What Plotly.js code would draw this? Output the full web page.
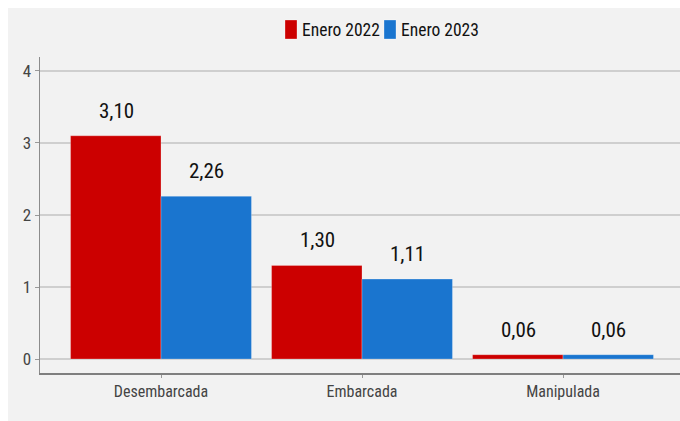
<!DOCTYPE html>
<html>
<head>
<meta charset="utf-8">
<script src="https://cdn.plot.ly/plotly-3.0.1.min.js"></script>
<style>
html,body{margin:0;padding:0;background:#ffffff;}
#chart{position:absolute;left:8px;top:8px;width:672px;height:413px;}
</style>
</head>
<body>
<div id="chart"></div>
<script>
var categories = ["Desembarcada", "Embarcada", "Manipulada"];
var seriesNames = ["Enero 2022", "Enero 2023"];
var values2022 = [3.10, 1.30, 0.06];
var values2023 = [2.26, 1.11, 0.06];
var colors = ["#cc0000", "#1a75cf"];

var FONT = '"Liberation Sans Narrow", "Arial Narrow", "Roboto Condensed", "DejaVu Sans Condensed", sans-serif';
function fmt(v){ return v.toFixed(2).replace('.', ','); }

var W = 672, H = 413, ML = 32, MR = 0, MT = 49, MB = 48;
function px2paperX(px){ return (px - ML) / (W - ML - MR); }
function px2paperY(py){ return (H - MB - py) / (H - MT - MB); }

var allSeries = [values2022, values2023];
var traces = allSeries.map(function(vals, i){
  return {
    type: 'bar',
    name: seriesNames[i],
    x: categories,
    y: vals,
    marker: {color: colors[i], line: {color: 'rgba(255,255,255,0.25)', width: 1}},
    hoverinfo: 'none',
    showlegend: false
  };
});

var annotations = [];
allSeries.forEach(function(vals, i){
  vals.forEach(function(v, j){
    annotations.push({
      x: categories[j], y: v, xref: 'x', yref: 'y',
      text: fmt(v), showarrow: false,
      xshift: (i === 0 ? -45 : 45), yshift: 25,
      font: {family: FONT, size: 21, color: '#111111'}
    });
  });
});

// custom legend (tall swatches as in the reference)
var shapes = [];
var legendX = [277, 376];
seriesNames.forEach(function(name, i){
  shapes.push({
    type: 'rect', xref: 'paper', yref: 'paper', layer: 'above',
    x0: px2paperX(legendX[i]), x1: px2paperX(legendX[i] + 12),
    y0: px2paperY(31), y1: px2paperY(12),
    fillcolor: colors[i], line: {width: 1, color: 'rgba(255,255,255,0.3)'}
  });
  annotations.push({
    xref: 'paper', yref: 'paper', showarrow: false,
    x: px2paperX(legendX[i] + 15), y: px2paperY(22),
    xanchor: 'left', yanchor: 'middle',
    text: name,
    font: {family: FONT, size: 17.5, color: '#111111'}
  });
});

var layout = {
  width: W, height: H,
  margin: {l: ML, r: MR, t: MT, b: MB},
  paper_bgcolor: '#f2f2f2',
  plot_bgcolor: '#f2f2f2',
  barmode: 'group',
  bargap: 0.1,
  bargroupgap: 0,
  showlegend: false,
  xaxis: {
    type: 'category',
    range: [-0.602, 2.582],
    showline: true, linecolor: '#7f7f7f', linewidth: 1.5,
    ticks: 'outside', ticklen: 3, tickcolor: '#999999',
    showgrid: false,
    tickfont: {family: FONT, size: 16, color: '#444444'}
  },
  yaxis: {
    range: [-0.194, 4.194],
    tickvals: [0, 1, 2, 3, 4],
    showline: true, linecolor: '#8c8c8c', linewidth: 1.5,
    ticks: 'outside', ticklen: 4, tickcolor: '#999999',
    showgrid: true, gridcolor: '#cfcfcf', gridwidth: 1.5,
    zeroline: false,
    tickfont: {family: FONT, size: 17, color: '#444444'}
  },
  shapes: shapes,
  annotations: annotations
};

Plotly.newPlot('chart', traces, layout, {displayModeBar: false, staticPlot: true});
</script>
</body>
</html>
